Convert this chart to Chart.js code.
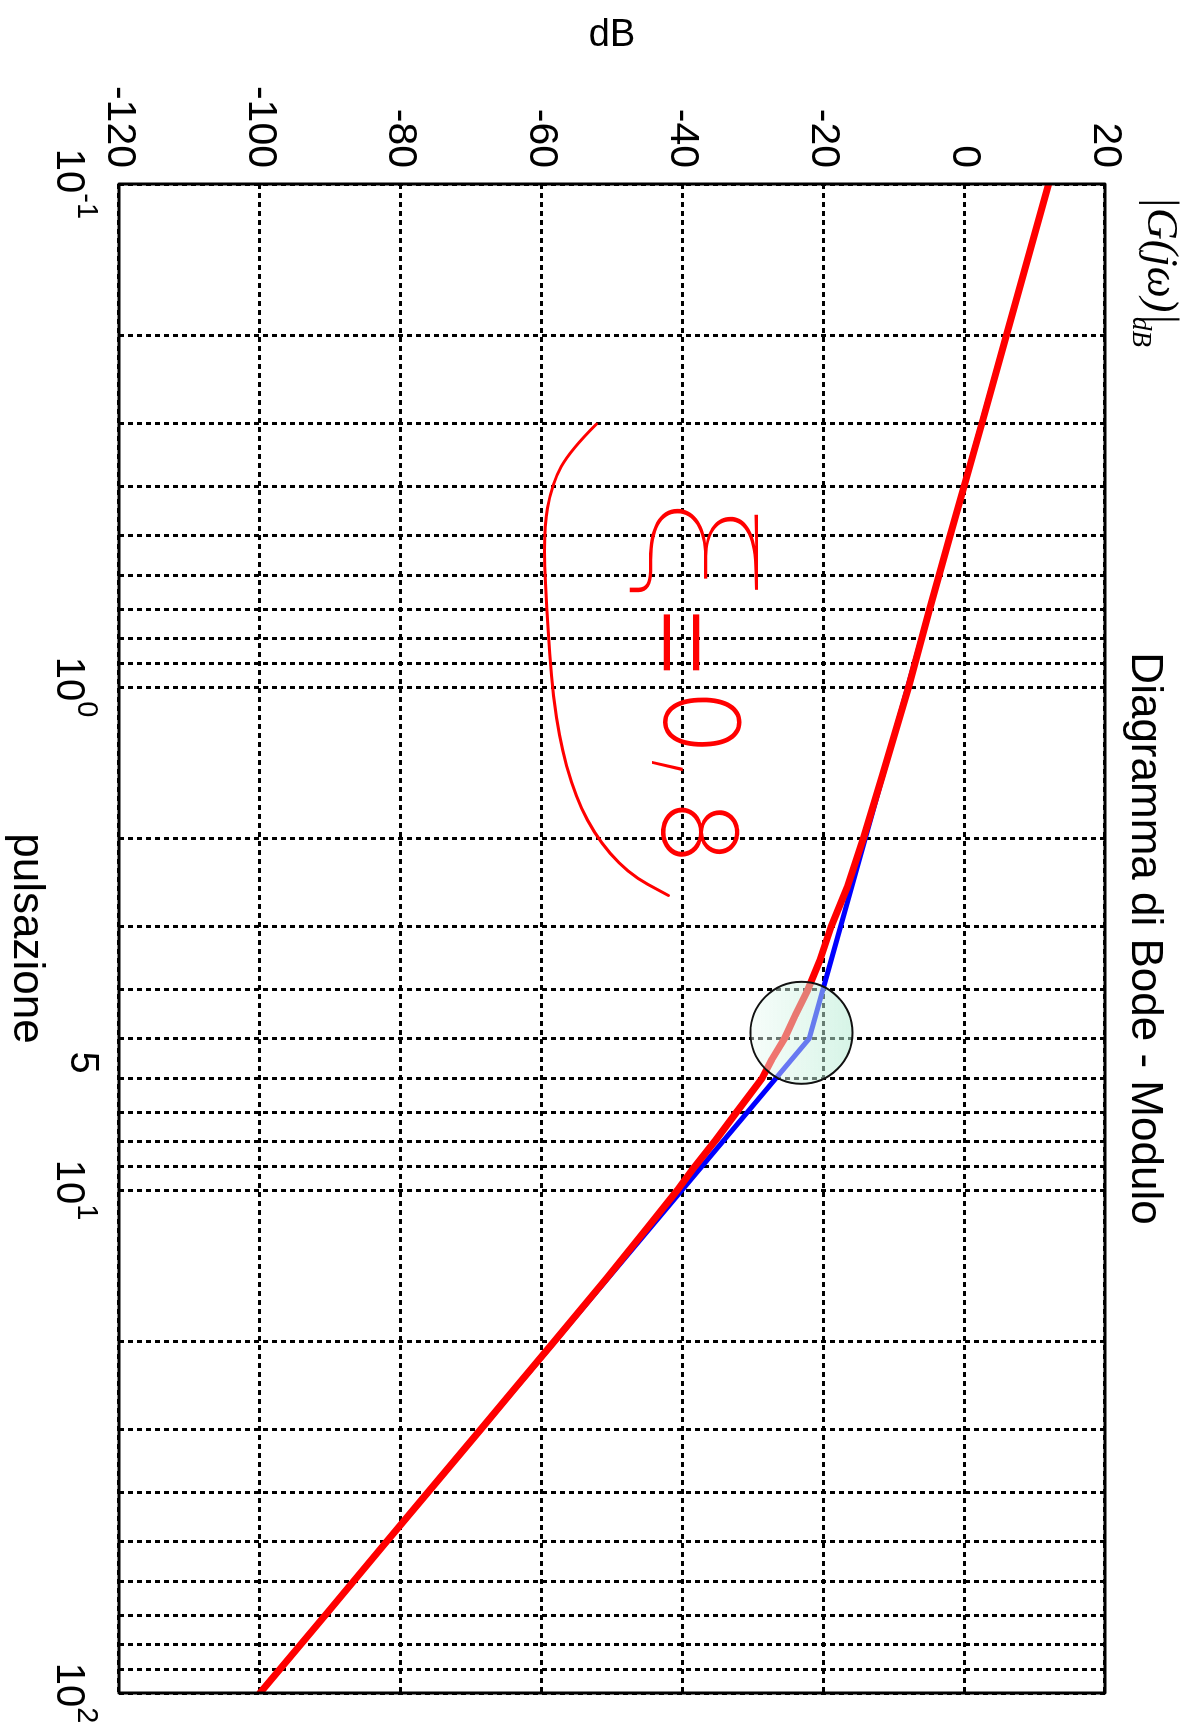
<!DOCTYPE html>
<html lang="it">
<head>
<meta charset="UTF-8">
<title>Diagramma di Bode - Modulo</title>
<script src="https://cdn.jsdelivr.net/npm/chart.js@4"></script>
<style>
  html, body { margin: 0; padding: 0; background: #fff; overflow: hidden; }
  /* il grafico e' disegnato "in piedi" e poi ruotato di 90 gradi come nella pagina scansionata */
  .ruotato {
    position: absolute; left: 0; top: 0;
    width: 1731px; height: 1194px;
    transform-origin: 0 0;
    transform: translateX(1194px) rotate(90deg);
  }
</style>
</head>
<body>
<div class="ruotato"><canvas id="bode" width="1731" height="1194"></canvas></div>
<script>
// --- dati ---
// curva reale (rossa)
const pulsReale = [0.1, 0.2, 0.3, 0.5, 0.7, 1, 1.5, 2, 2.5, 3, 3.5, 4, 4.5, 5, 5.5, 6, 7, 8, 9, 10, 12, 15, 20, 25, 30, 40, 50, 70, 100];
const moduloReale = [12.0, 6.0, 2.5, -2.0, -4.9, -7.9, -11.6, -14.3, -16.6, -18.9, -20.5, -22.2, -24.0, -25.5, -27.3, -28.7, -32.3, -35.4, -38.3, -40.7, -45.2, -50.8, -58.2, -64.0, -68.7, -76.2, -82.0, -90.7, -100.0];
// diagramma asintotico (blu)
const pulsAsintotico = [0.1, 5, 100];
const moduloAsintotico = [12, -22, -100];

// griglia e etichette
const grigliaX = [0.1, 0.2, 0.3, 0.4, 0.5, 0.6, 0.7, 0.8, 0.9, 1, 2, 3, 4, 5, 6, 7, 8, 9, 10, 20, 30, 40, 50, 60, 70, 80, 90, 100];
const tickY = [-120, -100, -80, -60, -40, -20, 0, 20];
const etichetteX = [0.1, 1, 5, 10, 100];
const baseX = ['10', '10', '5', '10', '10'];
const espX = ['-1', '0', '', '1', '2'];

// appunti a mano (in coordinate del grafico)
const appunto = ['ξ', '=', '0', ',', '8'];
const appuntoW = [0.534, 0.815, 1.175, 1.451, 1.945];
const appuntoDb = [-38.4, -39.7, -38.1, -35.5, -38.4];
const parentesi = [[0.30, -52.2], [0.338, -55.9], [0.393, -58.5], [0.494, -59.8], [0.782, -59.1],
  [1.149, -58.1], [1.554, -55.9], [1.954, -52.7], [2.348, -47.8], [2.597, -42.0]];

const SANS = '"Liberation Sans", Arial, Helvetica, sans-serif';
const MANO = 'Inter, Roboto, "DejaVu Sans", sans-serif';

function punti(xs, ys) {
  return xs.map((v, i) => ({ x: v, y: ys[i] }));
}

const disegni = {
  id: 'disegni',
  afterDatasetsDraw(chart) {
    const { ctx, chartArea: a, scales: { x, y } } = chart;
    ctx.save();

    // cerchio evidenziato intorno allo spigolo
    const cx = x.getPixelForValue(4.87), cy = y.getPixelForValue(-23.1);
    const g = ctx.createLinearGradient(cx, cy - 51, cx, cy + 51);
    g.addColorStop(0, 'rgba(180,235,210,0.55)');
    g.addColorStop(1, 'rgba(235,250,243,0.45)');
    ctx.beginPath();
    ctx.arc(cx, cy, 51, 0, Math.PI * 2);
    ctx.fillStyle = g;
    ctx.fill();
    ctx.lineWidth = 2;
    ctx.strokeStyle = '#111';
    ctx.stroke();

    // parentesi a mano
    ctx.strokeStyle = 'rgb(255,0,0)';
    ctx.lineWidth = 3;
    ctx.lineCap = 'round';
    ctx.lineJoin = 'round';
    const pp = parentesi.map(p => [x.getPixelForValue(p[0]), y.getPixelForValue(p[1])]);
    ctx.beginPath();
    ctx.moveTo(pp[0][0], pp[0][1]);
    for (let i = 1; i < pp.length - 1; i++) {
      const mx = (pp[i][0] + pp[i + 1][0]) / 2, my = (pp[i][1] + pp[i + 1][1]) / 2;
      ctx.quadraticCurveTo(pp[i][0], pp[i][1], mx, my);
    }
    ctx.lineTo(pp[pp.length - 1][0], pp[pp.length - 1][1]);
    ctx.stroke();

    // scritta a mano "xi = 0,8"
    ctx.fillStyle = 'rgb(255,0,0)';
    ctx.textAlign = 'center';
    ctx.textBaseline = 'middle';
    appunto.forEach((c, i) => {
      let size = 105, sx = 1, peso = 200;
      if (c === 'ξ') { size = 150; sx = 1.35; peso = 100; }
      if (c === '=') { size = 150; }
      if (c === ',') { size = 140; peso = 100; }
      ctx.save();
      ctx.translate(x.getPixelForValue(appuntoW[i]), y.getPixelForValue(appuntoDb[i]));
      ctx.scale(sx, 1);
      ctx.font = peso + ' ' + size + 'px ' + MANO;
      ctx.fillText(c, 0, 0);
      ctx.restore();
    });

    // cornice
    ctx.lineWidth = 3;
    ctx.strokeStyle = '#000';
    ctx.strokeRect(a.left, a.top, a.right - a.left, a.bottom - a.top);
    ctx.restore();
  },
  afterDraw(chart) {
    const { ctx, chartArea: a, scales: { x } } = chart;
    ctx.save();
    ctx.fillStyle = '#000';
    ctx.textBaseline = 'alphabetic';

    // etichette asse x con esponente
    etichetteX.forEach((v, i) => {
      const px = x.getPixelForValue(v);
      ctx.font = '40px ' + SANS;
      const wb = ctx.measureText(baseX[i]).width;
      if (!espX[i]) {
        ctx.textAlign = 'center';
        ctx.fillText(baseX[i], px + 24, 1123);
        return;
      }
      ctx.font = '29px ' + SANS;
      const we = ctx.measureText(espX[i]).width;
      const x0 = px - (wb + we) / 2;
      ctx.textAlign = 'left';
      ctx.font = '40px ' + SANS;
      ctx.fillText(baseX[i], x0, 1137);
      ctx.font = '29px ' + SANS;
      ctx.fillText(espX[i], x0 + wb, 1116);
    });

    // titolo
    ctx.textAlign = 'center';
    ctx.font = '44px ' + SANS;
    ctx.fillText('Diagramma di Bode - Modulo', (a.left + a.right) / 2, 62);

    // titolo asse x
    ctx.fillText('pulsazione', (a.left + a.right) / 2, 1180);

    // titolo asse y
    ctx.save();
    ctx.translate(46, (a.top + a.bottom) / 2);
    ctx.rotate(-Math.PI / 2);
    ctx.font = '38px ' + SANS;
    ctx.fillText('dB', 0, 0);
    ctx.restore();

    // |G(jw)|dB
    ctx.textAlign = 'left';
    ctx.font = 'italic 44px "Liberation Serif", "Times New Roman", serif';
    ctx.fillText('|G(jω)|', 196, 46);
    ctx.font = 'italic 27px "Liberation Serif", "Times New Roman", serif';
    ctx.fillText('dB', 317, 61);
    ctx.restore();
  }
};

new Chart(document.getElementById('bode'), {
  type: 'line',
  data: {
    datasets: [
      {
        label: 'reale',
        data: punti(pulsReale, moduloReale),
        borderColor: 'rgb(255,0,0)',
        borderWidth: 7,
        pointRadius: 0,
        tension: 0,
        borderJoinStyle: 'round',
        borderCapStyle: 'round'
      },
      {
        label: 'asintotico',
        data: punti(pulsAsintotico, moduloAsintotico),
        borderColor: 'rgb(0,0,255)',
        borderWidth: 5,
        pointRadius: 0,
        tension: 0
      }
    ]
  },
  options: {
    responsive: false,
    animation: false,
    devicePixelRatio: 1,
    layout: { padding: { top: 89, right: 38, left: 0, bottom: 0 } },
    plugins: { legend: { display: false }, title: { display: false }, tooltip: { enabled: false } },
    scales: {
      x: {
        type: 'logarithmic',
        min: 0.1,
        max: 100,
        afterBuildTicks: s => { s.ticks = grigliaX.map(v => ({ value: v })); },
        afterFit: s => { s.height = 119; },
        ticks: { callback: () => '', autoSkip: false, maxRotation: 0 },
        grid: { color: '#000', lineWidth: 3, drawTicks: false },
        border: { display: false, dash: [5, 4] }
      },
      y: {
        min: -120,
        max: 20,
        afterBuildTicks: s => { s.ticks = tickY.map(v => ({ value: v })); },
        afterFit: s => { s.width = 184; },
        ticks: { color: '#000', padding: 16, font: { family: SANS, size: 41 } },
        grid: { color: '#000', lineWidth: 3, drawTicks: false },
        border: { display: false, dash: [5, 4] }
      }
    }
  },
  plugins: [disegni]
});
</script>
</body>
</html>
